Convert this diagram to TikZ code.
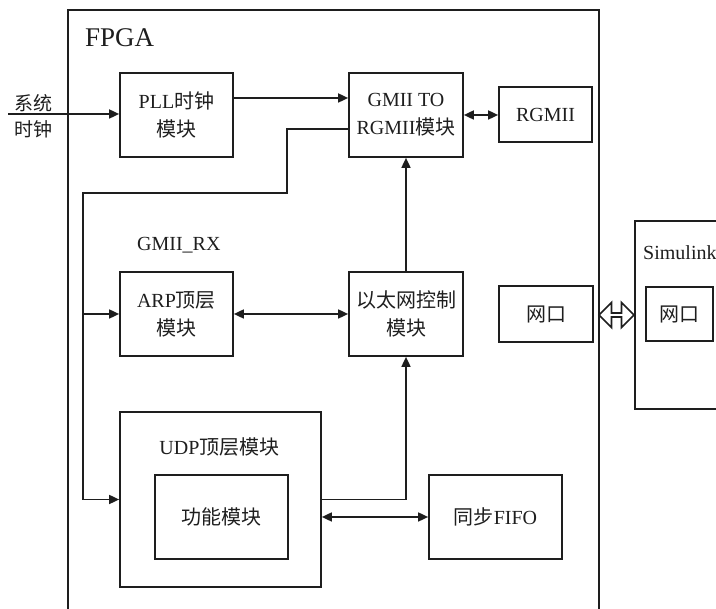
\documentclass[tikz,border=0pt]{standalone}
\usepackage{fontspec}
\setmainfont{Liberation Serif}
\newfontfamily\cjk{Noto Sans CJK SC}
\usetikzlibrary{arrows.meta,shapes.arrows}
\definecolor{ink}{RGB}{30,30,30}
\tikzset{
  blk/.style={draw=ink,line width=1.7pt,minimum width=113pt,minimum height=84pt,align=center,inner sep=0pt,text=ink,font=\fontsize{20}{28}\selectfont},
  frame/.style={draw=ink,line width=1.7pt,inner sep=0pt},
  lbl/.style={inner sep=0pt,text=ink,font=\fontsize{20}{24}\selectfont},
  arr/.style={-{Triangle[length=10pt,width=9pt]},draw=ink,line width=1.7pt},
  darr/.style={{Triangle[length=10pt,width=9pt]}-{Triangle[length=10pt,width=9pt]},draw=ink,line width=1.7pt},
  link/.style={double arrow,draw=ink,line width=1.7pt,minimum height=35pt,minimum width=25pt,double arrow head extend=4.5pt,inner sep=0pt}
}
\begin{document}
\begin{tikzpicture}[x=1pt,y=-1pt]
  \useasboundingbox (0,0) rectangle (716,609);
  % containers
  \node[frame,minimum width=531pt,minimum height=640pt,anchor=north west] (fpga) at (67,9) {};
  \node[frame,minimum width=150pt,minimum height=188pt,anchor=north west] (sim) at (634,220) {};
  \node[lbl,anchor=west,font=\fontsize{27}{30}\selectfont] (fpgalbl) at (85,38) {FPGA};
  \node[lbl,anchor=west] (simlbl) at (643,253) {Simulink};

  % blocks
  \node[blk] (pll) at (176.5,115) {PLL{\cjk 时钟}\\{\cjk 模块}};
  \node[blk,minimum width=114pt] (gmii) at (406,115) {GMII TO\\RGMII{\cjk 模块}};
  \node[blk,minimum width=93pt,minimum height=55pt] (rgmii) at (545.5,114.5) {RGMII};
  \node[lbl,anchor=west] (rxlbl) at (137,245) {GMII\_RX};
  \node[blk] (arp) at (176.5,314) {ARP{\cjk 顶层}\\{\cjk 模块}};
  \node[blk,minimum width=114pt] (eth) at (406,314) {{\cjk 以太网控制}\\{\cjk 模块}};
  \node[blk,minimum width=94pt,minimum height=56pt] (port) at (546,314) {{\cjk 网口}};
  \node[blk,minimum width=201pt,minimum height=175pt] (udp) at (220.5,499.5) {};
  \node[lbl] (udplbl) at (219.5,447) {UDP{\cjk 顶层模块}};
  \node[blk,minimum width=133pt] (func) at (221.5,517) {{\cjk 功能模块}};
  \node[blk,minimum width=133pt] (fifo) at (495.5,517) {{\cjk 同步}FIFO};
  \node[blk,minimum width=67pt,minimum height=54pt] (simport) at (679.5,314) {{\cjk 网口}};
  \node[lbl,align=center,font=\fontsize{19}{26}\selectfont] (clklbl) at (34,116) {{\cjk 系统}\\{\cjk 时钟}};
  \node[link] (hdx) at (616.5,315) {};

  % connections
  \coordinate (clkin) at (8,114);
  \coordinate (rxbus) at (83,193);
  \draw[arr] (clkin) -- (clkin -| pll.west);
  \draw[arr] ([yshift=17pt]pll.east) -- ([yshift=17pt]pll.east -| gmii.west);
  \draw[darr] (gmii.east) -- (gmii.east -| rgmii.west);
  \draw[arr] ([yshift=-14pt]gmii.west) -- ++(-61,0) |- (rxbus) |- (udp.west);
  \draw[arr] (rxbus |- arp.west) -- (arp.west);
  \draw[darr] (arp) -- (eth);
  \draw[arr] (eth) -- (gmii);
  \draw[arr] (udp.east) -| (eth.south);
  \draw[darr] (func.east -| udp.east) -- (fifo.west);
\end{tikzpicture}
\end{document}
